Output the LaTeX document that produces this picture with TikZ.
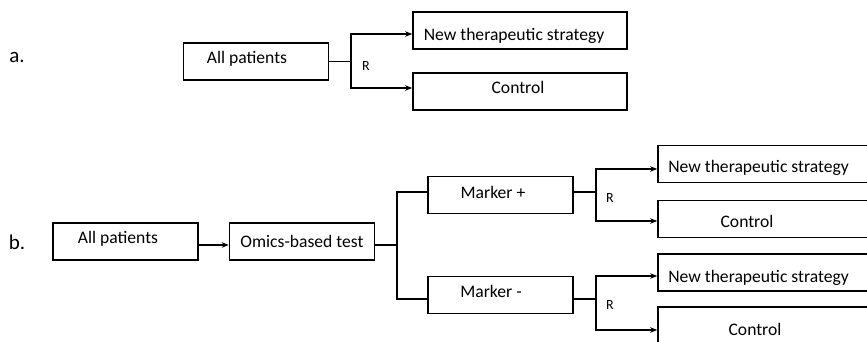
\documentclass[tikz,border=0pt]{standalone}
\usepackage{fontspec}
\setmainfont{Carlito}
\usetikzlibrary{arrows.meta}

\tikzset{
	box/.style={draw, line width=1.6pt, minimum height=37pt, inner sep=0pt, text depth=4pt, font=\fontsize{17.6}{20}\selectfont},
	smallbox/.style={box, minimum width=145pt},
	widebox/.style={box, minimum width=214pt},
	txt/.style 2 args={execute at begin node={\hspace*{#1}}, text height=#2},
	conn/.style={line width=1.3pt},
	arr/.style={conn, -{Stealth[length=7pt, width=5.5pt]}},
	rlabel/.style={font=\fontsize{14}{16}\selectfont},
	part/.style={font=\fontsize{21}{24}\selectfont}
}

\begin{document}
\begin{tikzpicture}[x=1pt, y=-1pt]
					\useasboundingbox (0, 0) rectangle (867, 341);
					\clip (0, 0) rectangle (867, 341);

					% a.
					\node[part] (lbla) at (17, 57) {a.};
					\node[smallbox, txt={-18pt}{7pt}] (alla) at (256, 61.5) {All patients};
					\node[widebox, txt={-12pt}{23pt}] (newa) at (520, 30.5) {New therapeutic strategy};
					\node[widebox, txt={-4pt}{7pt}] (ctla) at (520, 91.5) {Control};
					\coordinate (randa) at (351, 61.5);
					\node[rlabel] (ra) at (366, 66) {R};

					\draw[conn] (alla) -- (randa);
					\draw[arr] (randa) |- ([yshift=-3.5pt]newa.west);
					\draw[arr] (randa) |- ([yshift=3.5pt]ctla.west);

					% b.
					\node[part] (lblb) at (17, 242) {b.};
					\node[smallbox, txt={-15pt}{7pt}] (allb) at (125.5, 241.5) {All patients};
					\node[smallbox, txt={0pt}{15pt}] (omics) at (302, 241.5) {Omics-based test};
					\node[smallbox, txt={-15pt}{10pt}] (mkpos) at (500.5, 195) {Marker +};
					\node[smallbox, txt={-19pt}{8pt}] (mkneg) at (500.5, 295) {Marker -};
					\node[widebox, txt={-13pt}{20pt}] (newpos) at (765, 164) {New therapeutic strategy};
					\node[widebox, txt={-36pt}{20pt}] (ctlpos) at (765, 219) {Control};
					\node[widebox, txt={-13pt}{23pt}] (newneg) at (765, 272.5) {New therapeutic strategy};
					\node[widebox, txt={-20pt}{23pt}] (ctlneg) at (765, 325.5) {Control};
					\coordinate (split) at (397, 245);
					\coordinate (randpos) at (596, 192);
					\coordinate (randneg) at (596, 299);
					\node[rlabel] (rpos) at (610, 198) {R};
					\node[rlabel] (rneg) at (610, 305) {R};

					\draw[arr] ([yshift=-3.5pt]allb.east) -- ([yshift=-3.5pt]omics.west);
					\draw[conn] ([yshift=-3.5pt]omics.east) -- (split);
					\draw[conn] (split) |- ([yshift=3pt]mkpos.west);
					\draw[conn] (split) |- ([yshift=-4pt]mkneg.west);

					\foreach \mk/\rnd/\new/\ctl/\dn/\dc in {mkpos/randpos/newpos/ctlpos/-5/-2, mkneg/randneg/newneg/ctlneg/-3.5/-4.5}
						{
						\draw[conn] (\rnd -| \mk.east) -- (\rnd);
						\draw[arr] (\rnd) |- ([yshift=\dn pt]\new.west);
						\draw[arr] (\rnd) |- ([yshift=\dc pt]\ctl.west);
						}
				\end{tikzpicture}
\end{document}
